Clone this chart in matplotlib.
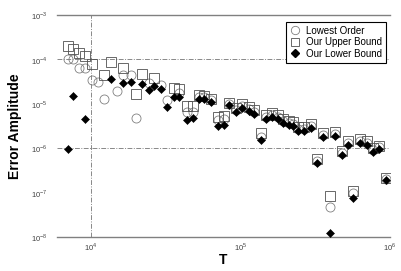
import numpy as np
import matplotlib
matplotlib.use('Agg')
import matplotlib.pyplot as plt
from matplotlib.lines import Line2D

plt.rcParams['font.family'] = 'Liberation Sans'
plt.rcParams['mathtext.fontset'] = 'custom'
plt.rcParams['mathtext.rm'] = 'Liberation Sans'

nan = np.nan

# T values (shared by the three series)
t = [7050, 7600, 8350, 9160, 10200, 11200, 12300, 13700, 15000, 16500,
     18400, 20100, 22100, 24300, 26600, 29600, 32500, 35700, 39100, 43600,
     47900, 52500, 57500, 63200, 70400, 77300, 83400, 92900, 102000, 114000,
     123000, 137000, 148000, 162000, 178000, 192000, 211000, 224000, 243000, 266000,
     296000, 325000, 356000, 397000, 429000, 478000, 525000, 567000, 632000, 704000,
     773000, 847000, 944000]

lowest_order = [1.03e-4, 1.03e-4, 6.4e-5, 6.4e-5, 3.46e-5, 3.12e-5, 1.30e-5, nan, 1.96e-5, 4.5e-5,
                4.5e-5, 4.8e-6, nan, 2.96e-5, nan, 2.67e-5, 1.23e-5, nan, 1.77e-5, 6.6e-6,
                6.6e-6, 1.44e-5, 1.44e-5, 1.23e-5, 4.4e-6, 4.6e-6, 1.0e-5, 7.3e-6, 9.0e-6, 7.7e-6,
                6.6e-6, 1.81e-6, 5.1e-6, 5.7e-6, 5.1e-6, 4.1e-6, 3.7e-6, 3.6e-6, 2.7e-6, 2.7e-6,
                3.2e-6, 5.2e-7, 2.0e-6, 4.8e-8, 2.1e-6, 7.9e-7, 1.33e-6, 1.0e-7, 1.47e-6, 1.33e-6,
                9.2e-7, 1.08e-6, 2.05e-7]

upper_bound = [2.0e-4, 1.72e-4, 1.40e-4, 1.20e-4, 7.9e-5, nan, 4.5e-5, 8.8e-5, nan, 6.4e-5,
               nan, 1.68e-5, 4.7e-5, nan, 3.8e-5, nan, nan, 2.29e-5, 2.17e-5, 9.0e-6,
               9.0e-6, 1.59e-5, 1.51e-5, 1.30e-5, 5.1e-6, 5.4e-6, 1.05e-5, 8.1e-6, 1.0e-5, 8.6e-6,
               7.3e-6, 2.2e-6, 5.7e-6, 6.3e-6, 5.7e-6, 4.6e-6, 4.1e-6, 3.9e-6, 3.0e-6, 3.0e-6,
               3.6e-6, 5.8e-7, 2.2e-6, 8.6e-8, 2.35e-6, 8.8e-7, 1.47e-6, 1.11e-7, 1.63e-6, 1.47e-6,
               1.03e-6, 1.14e-6, 2.17e-7]

lower_bound = [9.7e-7, 1.51e-5, nan, 4.6e-6, nan, nan, nan, 3.65e-5, nan, 2.96e-5,
               3.12e-5, nan, 2.81e-5, 2.06e-5, 2.54e-5, 2.17e-5, 8.6e-6, 1.44e-5, 1.44e-5, 4.4e-6,
               4.8e-6, 1.30e-5, 1.30e-5, 1.11e-5, 3.2e-6, 3.4e-6, 9.5e-6, 6.6e-6, 8.1e-6, 7.0e-6,
               6.0e-6, 1.55e-6, 4.6e-6, 5.1e-6, 4.6e-6, 3.7e-6, 3.4e-6, 3.2e-6, 2.5e-6, 2.5e-6,
               2.9e-6, 4.7e-7, 1.81e-6, 1.26e-8, 1.9e-6, 7.1e-7, 1.20e-6, 7.7e-8, 1.33e-6, 1.20e-6,
               8.3e-7, 9.7e-7, 1.96e-7]

x_ticks = [1e4, 1e5, 1e6]
x_ticklabels = [r'$10^{4}$', r'$10^{5}$', r'$10^{6}$']
y_ticks = [1e-8, 1e-7, 1e-6, 1e-5, 1e-4, 1e-3]
y_ticklabels = [r'$10^{-8}$', r'$10^{-7}$', r'$10^{-6}$', r'$10^{-5}$', r'$10^{-4}$', r'$10^{-3}$']

fig = plt.figure(figsize=(4.02, 2.71), dpi=100)
ax = fig.add_axes([0.142, 0.125, 0.828, 0.820])

ax.set_xscale('log')
ax.set_yscale('log')
ax.set_xlim(5940, 1e6)
ax.set_ylim(1e-8, 1e-3)

# reference lines (dash-dot)
for yv in [1e-4, 1e-6]:
    ax.axhline(yv, color='#888888', lw=0.7, ls=(0, (5, 1.5, 1, 1.5)), zorder=1)
ax.axvline(1e4, color='#888888', lw=0.7, ls=(0, (5, 1.5, 1, 1.5)), zorder=1)

ax.plot(t, lowest_order, 'o', ms=6.5, mfc='none', mec='#808080', mew=0.6, zorder=2)
ax.plot(t, upper_bound, 's', ms=7, mfc='none', mec='#505050', mew=0.6, zorder=3)
ax.plot(t, lower_bound, 'D', ms=4.4, mfc='black', mec='black', mew=0.4, zorder=4)

ax.set_xticks(x_ticks)
ax.set_xticklabels(x_ticklabels)
ax.set_yticks(y_ticks)
ax.set_yticklabels(y_ticklabels)
ax.minorticks_off()
ax.tick_params(length=0, labelsize=5.5, labelcolor='#404040')
ax.tick_params(axis='x', pad=3)
ax.tick_params(axis='y', pad=7)

for side in ['left', 'right']:
    ax.spines[side].set_visible(False)
for side in ['top', 'bottom']:
    ax.spines[side].set_color('#808080')
    ax.spines[side].set_linewidth(1.0)

ax.set_xlabel('T', fontsize=10, fontweight='bold', labelpad=0)
ax.set_ylabel('Error Amplitude', fontsize=10, fontweight='bold', labelpad=6)

handles = [
    Line2D([0], [0], marker='o', ls='none', ms=6, mfc='none', mec='#808080', mew=0.6, label='Lowest Order'),
    Line2D([0], [0], marker='s', ls='none', ms=6, mfc='none', mec='#505050', mew=0.6, label='Our Upper Bound'),
    Line2D([0], [0], marker='D', ls='none', ms=4, mfc='black', mec='black', label='Our Lower Bound'),
]
leg = ax.legend(handles=handles, loc='upper right', bbox_to_anchor=(386 / 402, 1 - 22 / 271),
                bbox_transform=fig.transFigure, borderaxespad=0, fontsize=7,
                fancybox=False, framealpha=1, edgecolor='black', labelspacing=0.15,
                handlelength=1.2, handletextpad=0.5, borderpad=0.4)
leg.get_frame().set_linewidth(0.8)

plt.savefig('out.png', dpi=100)
